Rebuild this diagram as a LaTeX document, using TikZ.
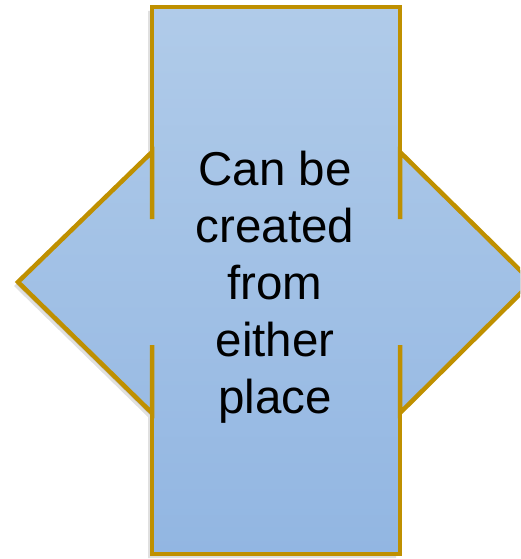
\documentclass[tikz,border=0pt]{standalone}
\usepackage{fontspec}
\setmainfont{Liberation Sans}
\definecolor{gold}{RGB}{191,144,0}
\definecolor{paletop}{RGB}{176,203,233}
\definecolor{palebottom}{RGB}{146,182,226}
\newcommand{\outlinepath}{(152,7) -- (400,7) -- (400,152) -- (532,282) -- (400,413) -- (400,554) -- (152,554) -- (152,413) -- (18,282) -- (152,152) -- cycle}
\begin{document}
\begin{tikzpicture}[
        x=1pt, y=-1pt,
        edge/.style={draw=gold, line width=4.5pt, line join=miter},
        body/.style={top color=paletop, bottom color=palebottom},
        halo/.style={fill=black, opacity=0.12},
        caption/.style={align=center, inner sep=0pt, font=\fontsize{47.5}{57}\selectfont}
    ]
        \useasboundingbox (0,0) rectangle (520,559);
        \clip (0,0) rectangle (520,559);

        % soft shadow, then the filled outline
        \fill[halo, xshift=-2pt, yshift=-2pt] \outlinepath;
        \fill[halo, xshift=-4pt, yshift=-4pt] \outlinepath;
        \fill[body] \outlinepath;

        \draw[edge] (152,219) -- (152,7) -- (400,7) -- (400,219);
        \draw[edge] (152,345) -- (152,554) -- (400,554) -- (400,345);
        \draw[edge] (152,219) -- (152,152) -- (18,282) -- (152,413) -- (152,345);
        \draw[edge] (400,219) -- (400,152) -- (532,282) -- (400,413) -- (400,345);

        \node[caption] (label) at (275,287.5) {Can be\\created\\from\\either\\place};
    \end{tikzpicture}
\end{document}
